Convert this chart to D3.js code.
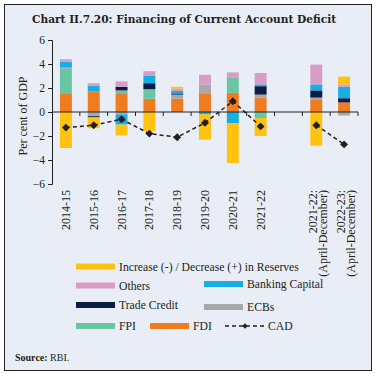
<!DOCTYPE html>
<html>
<head>
<meta charset="utf-8">
<script src="https://cdn.jsdelivr.net/npm/d3@7"></script>
<style>
  body { margin: 0; background: #fff; }
  #chart svg { display: block; }
</style>
</head>
<body>
<div id="chart"></div>
<script>
// categories, the empty one is the gap before the April-December bars
const categories = ["2014-15", "2015-16", "2016-17", "2017-18", "2018-19", "2019-20", "2020-21", "2021-22", "",
    "2021-22:|(April-December)", "2022-23:|(April-December)"];

const fdi       = [1.5, 1.7, 1.5, 1.1, 1.1, 1.5, 1.6, 1.2, null, 1.0, 0.8];
const fpi       = [2.1, 0, 0.3, 0.8, 0, 0, 1.3, -0.5, null, 0, 0];
const ecbs      = [0.1, -0.35, -0.2, 0, 0.35, 0.8, 0, 0.25, null, 0.2, -0.3];
const tradeCred = [0, -0.1, 0.3, 0.5, 0.1, 0, 0, 0.7, null, 0.6, 0.35];
const banking   = [0.5, 0.5, -0.85, 0.6, 0.2, -0.2, -0.95, 0.15, null, 0.5, 0.95];
const others    = [0.2, 0.2, 0.45, 0.4, 0.2, 0.8, 0.4, 0.95, null, 1.65, 0.2];
const reserves  = [-3.0, -0.9, -0.9, -1.6, 0.15, -2.1, -3.3, -1.5, null, -2.8, 0.65];
const cad       = [-1.3, -1.1, -0.6, -1.8, -2.1, -0.9, 0.9, -1.2, null, -1.1, -2.7];

const yTicks = [6, 4, 2, 0, -2, -4, -6];

const series = [
    {key: "fdi", name: "FDI", values: fdi, color: "#F07C22"},
    {key: "fpi", name: "FPI", values: fpi, color: "#69C6A2"},
    {key: "ecbs", name: "ECBs", values: ecbs, color: "#A8A8A8"},
    {key: "tc", name: "Trade Credit", values: tradeCred, color: "#0B1D44"},
    {key: "bc", name: "Banking Capital", values: banking, color: "#17AEE6"},
    {key: "oth", name: "Others", values: others, color: "#D99CC7"},
    {key: "res", name: "Increase (-) / Decrease (+) in Reserves", values: reserves, color: "#FFC20E"}
];

const width = 376, height = 376;
const bg = "#E9EEF6";
const serif = "'Liberation Serif', 'DejaVu Serif', serif";
const ink = "#231F20";

const svg = d3.select("#chart")
    .append("svg")
    .attr("width", width)
    .attr("height", height);

// frame
svg.append("rect")
    .attr("x", 4.5).attr("y", 4.5)
    .attr("width", 367).attr("height", 366)
    .attr("fill", bg)
    .attr("stroke", "#222")
    .attr("stroke-width", 1);

svg.append("text")
    .attr("x", 32).attr("y", 23)
    .attr("font-family", "'DejaVu Serif', serif")
    .attr("font-weight", "bold")
    .attr("font-size", 10.6)
    .attr("fill", ink)
    .text("Chart II.7.20: Financing of Current Account Deficit");

const x = d3.scaleBand()
    .domain(d3.range(categories.length))
    .range([52, 358])
    .paddingInner(0.57)
    .paddingOuter(0.285);

const y = d3.scaleLinear()
    .domain([-6, 6])
    .range([184, 40]);

// stacked data
const table = categories.map((c, i) => {
    let row = {i: i};
    series.forEach(s => row[s.key] = s.values[i] || 0);
    return row;
});

const stacked = d3.stack()
    .keys(series.map(s => s.key))
    .offset(d3.stackOffsetDiverging)(table);

const color = d3.scaleOrdinal()
    .domain(series.map(s => s.key))
    .range(series.map(s => s.color));

svg.append("g")
    .selectAll("g")
    .data(stacked)
    .join("g")
    .attr("fill", d => color(d.key))
    .selectAll("rect")
    .data(d => d.filter(p => p[1] !== p[0]))
    .join("rect")
    .attr("x", d => x(d.data.i))
    .attr("width", x.bandwidth())
    .attr("y", d => y(Math.max(d[0], d[1])))
    .attr("height", d => Math.abs(y(d[0]) - y(d[1])));

// y axis
const yAxis = svg.append("g")
    .attr("transform", "translate(52,0)")
    .call(d3.axisLeft(y).tickValues(yTicks).tickSize(4).tickFormat(d3.format("d")));
yAxis.select(".domain").attr("stroke", "#222");
yAxis.selectAll(".tick line").attr("stroke", "#222");
yAxis.selectAll("text")
    .attr("font-family", serif)
    .attr("font-size", 11.5)
    .attr("fill", ink);

svg.append("text")
    .attr("transform", "translate(27," + (y(0) + 4) + ") rotate(-90)")
    .attr("text-anchor", "middle")
    .attr("font-family", serif)
    .attr("font-size", 12)
    .attr("fill", ink)
    .text("Per cent of GDP");

// x axis at zero, ticks between bands
const step = x.step();
const boundaries = d3.range(1, categories.length + 1).map(k => 52 + k * step);

svg.append("line")
    .attr("x1", 52).attr("x2", 358)
    .attr("y1", y(0)).attr("y2", y(0))
    .attr("stroke", "#222");

svg.append("g")
    .selectAll("line")
    .data(boundaries)
    .join("line")
    .attr("x1", d => d).attr("x2", d => d)
    .attr("y1", y(0)).attr("y2", y(0) + 4)
    .attr("stroke", "#222");

// x labels
const xLab = svg.append("g")
    .selectAll("text")
    .data(categories.map((c, i) => ({c, i})).filter(d => d.c !== ""))
    .join("text")
    .attr("font-family", serif)
    .attr("font-size", 12)
    .attr("fill", ink)
    .attr("text-anchor", "end")
    .attr("transform", d => {
        const cx = x(d.i) + x.bandwidth() / 2;
        return "translate(" + cx + ",190) rotate(-90)";
    });

xLab.each(function(d) {
    const lines = d.c.split("|");
    const t = d3.select(this);
    lines.forEach((l, k) => {
        t.append("tspan")
            .attr("x", 0)
            .attr("dy", lines.length > 1 ? (k === 0 ? 0.7 : 10) : 4)
            .text(l);
    });
});

// CAD line, broken at the gap
const line = d3.line()
    .defined(d => d.v !== null)
    .x(d => x(d.i) + x.bandwidth() / 2)
    .y(d => y(d.v));

const cadPts = cad.map((v, i) => ({i, v}));

svg.append("path")
    .datum(cadPts)
    .attr("d", line)
    .attr("fill", "none")
    .attr("stroke", ink)
    .attr("stroke-width", 1.5)
    .attr("stroke-dasharray", "4,3");

svg.append("g")
    .selectAll("path")
    .data(cadPts.filter(d => d.v !== null))
    .join("path")
    .attr("transform", d => "translate(" + (x(d.i) + x.bandwidth() / 2) + "," + y(d.v) + ")")
    .attr("d", d3.symbol().type(d3.symbolDiamond2).size(40))
    .attr("fill", ink);

// legend
const legendItems = [
    {key: "res", x: 76, y: 266.5},
    {key: "oth", x: 76, y: 285.5},
    {key: "bc", x: 204, y: 284},
    {key: "tc", x: 76, y: 305},
    {key: "ecbs", x: 204, y: 307},
    {key: "fpi", x: 76, y: 326},
    {key: "fdi", x: 150, y: 326}
];

const legFont = 11.7;

const leg = svg.append("g")
    .selectAll("g")
    .data(legendItems)
    .join("g")
    .attr("transform", d => "translate(" + d.x + "," + d.y + ")");

leg.append("rect")
    .attr("x", 0).attr("y", -3)
    .attr("width", 39).attr("height", 6)
    .attr("fill", d => color(d.key));

leg.append("text")
    .attr("x", 43).attr("y", 4)
    .attr("font-family", serif)
    .attr("font-size", legFont)
    .attr("fill", ink)
    .text(d => series.find(s => s.key === d.key).name);

const cadLeg = svg.append("g").attr("transform", "translate(225,326)");
cadLeg.append("line")
    .attr("x1", 0).attr("x2", 40)
    .attr("stroke", ink)
    .attr("stroke-width", 1.5)
    .attr("stroke-dasharray", "4,3");
cadLeg.append("path")
    .attr("transform", "translate(20,0)")
    .attr("d", d3.symbol().type(d3.symbolDiamond2).size(18))
    .attr("fill", ink);
cadLeg.append("text")
    .attr("x", 43).attr("y", 4)
    .attr("font-family", serif)
    .attr("font-size", legFont)
    .attr("fill", ink)
    .text("CAD");

// source
const src = svg.append("text")
    .attr("x", 15).attr("y", 361)
    .attr("font-family", serif)
    .attr("font-size", 10)
    .attr("fill", ink);
src.append("tspan").attr("font-weight", "bold").text("Source: ");
src.append("tspan").text("RBI.");
</script>
</body>
</html>
